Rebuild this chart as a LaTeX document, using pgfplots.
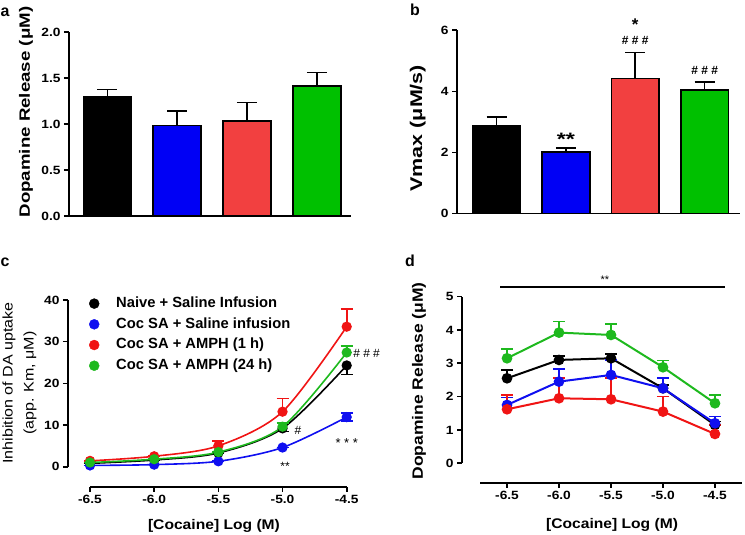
\documentclass[border=0pt]{standalone}
\usepackage{fontspec}
\setmainfont{Liberation Sans}
\usepackage{pgfplots}
\pgfplotsset{compat=1.18}

\definecolor{barblue}{RGB}{0,0,245}
\definecolor{barred}{RGB}{242,64,64}
\definecolor{bargreen}{RGB}{0,192,0}
\definecolor{lred}{RGB}{240,20,20}
\definecolor{lgreen}{RGB}{30,185,30}
\definecolor{lblue}{RGB}{15,15,240}

\newcommand{\tl}[1]{\scalebox{1.15}[1]{#1}}

\pgfplotsset{
  myax/.style={
    scale only axis, anchor=south west,
    axis lines=left,
    axis line style={-, line width=1.6bp, black},
    tick align=outside, major tick length=5bp,
    every tick/.style={line width=1.6bp, black},
    tick label style={font=\bfseries\fontsize{12}{14}\selectfont},
    clip=false,
  },
  barplot/.style={
    ybar, bar width=0.69, bar shift=0pt, xtick=\empty,
    xmin=0.45, xmax=4.49,
  },
  barerr/.style={
    draw=black, line width=1.6bp,
    error bars/y dir=plus, error bars/y explicit,
    error bars/error bar style={line width=1.6bp, black},
    error bars/error mark options={rotate=90, mark size=10bp, line width=1.6bp, black},
  },
  ser/.style={
    color=#1, line width=1.6bp, mark=*, mark size=4.3bp,
    mark options={solid, fill=#1, draw=#1},
    error bars/y explicit,
    error bars/error bar style={line width=1.6bp, #1},
    error bars/error mark options={rotate=90, mark size=6bp, line width=1.6bp, #1},
  },
}

\begin{document}
\begin{tikzpicture}
\useasboundingbox (0,0) rectangle (745bp,535bp);

% panel labels
\node[anchor=base west, font=\bfseries\fontsize{16}{18}\selectfont, inner sep=0pt] at (0.5bp,518.3bp) {a};
\node[anchor=base west, font=\bfseries\fontsize{16}{18}\selectfont, inner sep=0pt] at (410bp,519bp) {b};
\node[anchor=base west, font=\bfseries\fontsize{16}{18}\selectfont, inner sep=0pt] at (0.5bp,268bp) {c};
\node[anchor=base west, font=\bfseries\fontsize{16}{18}\selectfont, inner sep=0pt] at (405bp,268bp) {d};

% ---------------- panel a
\begin{axis}[myax, barplot, at={(69bp,319bp)}, width=282bp, height=184bp,
  ymin=0, ymax=2, ytick={0,0.5,1,1.5,2},
  yticklabels={\tl{0.0},\tl{0.5},\tl{1.0},\tl{1.5},\tl{2.0}},
  ylabel={\scalebox{1.25}[1]{Dopamine Release (μM)}},
  ylabel style={at={(axis description cs:-0.1525,0.565)}, anchor=center, font=\bfseries\fontsize{15}{18}\selectfont},
]
\addplot[fill=black, barerr] coordinates {(1,1.30) +- (0,0.077)};
\addplot[fill=barblue, barerr] coordinates {(2,0.985) +- (0,0.155)};
\addplot[fill=barred, barerr] coordinates {(3,1.03) +- (0,0.205)};
\addplot[fill=bargreen, barerr] coordinates {(4,1.41) +- (0,0.15)};
\end{axis}

% ---------------- panel b
\begin{axis}[myax, barplot, at={(457bp,321.3bp)}, width=283bp, height=183.4bp,
  xmin=0.43, xmax=4.51,
  ymin=0, ymax=6, ytick={0,2,4,6},
  yticklabels={\tl{0},\tl{2},\tl{4},\tl{6}},
  ylabel={\scalebox{1.27}[1]{Vmax (μM/s)}},
  ylabel style={at={(axis description cs:-0.139,0.466)}, anchor=center, font=\bfseries\fontsize{17}{20}\selectfont},
]
\addplot[fill=black, barerr] coordinates {(1,2.87) +- (0,0.30)};
\addplot[fill=barblue, barerr] coordinates {(2,2.01) +- (0,0.13)};
\addplot[fill=barred, barerr] coordinates {(3,4.42) +- (0,0.85)};
\addplot[fill=bargreen, barerr] coordinates {(4,4.04) +- (0,0.26)};
\node[anchor=base, font=\bfseries\fontsize{18}{20}\selectfont, inner sep=0pt] at (axis cs:2,2.235) {\scalebox{1.3}[1]{**}};
\node[anchor=base, font=\bfseries\fontsize{17}{20}\selectfont, inner sep=0pt] at (axis cs:3,6.0) {*};
\node[anchor=base, font=\bfseries\fontsize{12}{14}\selectfont, inner sep=0pt] at (axis cs:3,5.55) {\# \# \#};
\node[anchor=base, font=\bfseries\fontsize{12}{14}\selectfont, inner sep=0pt] at (axis cs:4,4.565) {\# \# \#};
\end{axis}

% ---------------- panel c
\begin{axis}[myax, at={(90bp,68.3bp)}, width=256.7bp, height=166.7bp,
  xmin=-6.5, xmax=-4.5, ymin=0, ymax=40,
  separate axis lines, axis x line shift=20bp, axis y line shift=22bp,
  xtick={-6.5,-6,-5.5,-5,-4.5},
  xticklabels={\tl{-6.5},\tl{-6.0},\tl{-5.5},\tl{-5.0},\tl{-4.5}},
  ytick={0,10,20,30,40},
  yticklabels={\tl{0},\tl{10},\tl{20},\tl{30},\tl{40}},
  xlabel={\scalebox{1.12}[1]{[Cocaine] Log (M)}},
  xlabel style={at={(axis description cs:0.483,-0.354)}, anchor=center, font=\bfseries\fontsize{14}{16}\selectfont},
  ylabel={\scalebox{1.15}[1]{Inhibition of DA uptake}\\\scalebox{1.15}[1]{(app. Km, μM)}},
  ylabel style={at={(axis description cs:-0.2746,0.502)}, anchor=center, align=center, font=\fontsize{14}{21}\selectfont},
  legend style={draw=none, fill=none, at={(axis description cs:-0.0154,1.038)}, anchor=north west,
    font=\bfseries\fontsize{14.8}{17}\selectfont, row sep=5.2bp,
    nodes={inner sep=1bp, text height=10.5bp, text depth=3bp},
    /tikz/every odd column/.append style={column sep=16bp}},
  legend cell align=left,
]
\addlegendimage{only marks, mark=*, mark size=5bp, black}
\addlegendentry{Naive + Saline Infusion}
\addlegendimage{only marks, mark=*, mark size=5bp, lblue}
\addlegendentry{Coc SA + Saline infusion}
\addlegendimage{only marks, mark=*, mark size=5bp, lred}
\addlegendentry{Coc SA + AMPH (1 h)}
\addlegendimage{only marks, mark=*, mark size=5bp, lgreen}
\addlegendentry{Coc SA + AMPH (24 h)}

\addplot[ser=black, smooth, error bars/y dir=minus, forget plot] coordinates {
  (-6.5,0.8) +- (0,0) (-6,1.6) +- (0,0) (-5.5,3.3) +- (0,0) (-5,9.2) +- (0,0.8) (-4.5,24.3) +- (0,2.2)};
\addplot[ser=lblue, smooth, error bars/y dir=both, forget plot] coordinates {
  (-6.5,0.3) +- (0,0) (-6,0.5) +- (0,0) (-5.5,1.3) +- (0,0) (-5,4.6) +- (0,0) (-4.5,11.9) +- (0,1.0)};
\addplot[ser=lred, smooth, error bars/y dir=plus, forget plot] coordinates {
  (-6.5,1.4) +- (0,0) (-6,2.5) +- (0,0) (-5.5,5.0) +- (0,1.2) (-5,13.2) +- (0,3.2) (-4.5,33.6) +- (0,4.3)};
\addplot[ser=lgreen, smooth, error bars/y dir=plus, forget plot] coordinates {
  (-6.5,1.0) +- (0,0) (-6,1.8) +- (0,0) (-5.5,3.5) +- (0,0) (-5,9.6) +- (0,0.9) (-4.5,27.4) +- (0,1.6)};

\node[anchor=base, font=\fontsize{12}{14}\selectfont, inner sep=0pt] at (axis cs:-4.98,-0.9) {**};
\node[anchor=base, font=\fontsize{12}{14}\selectfont, inner sep=0pt] at (axis cs:-4.88,7.8) {\#};
\node[anchor=base, font=\fontsize{13}{14}\selectfont, inner sep=0pt] at (axis cs:-4.5,4.7) {* * *};
\node[anchor=base west, font=\fontsize{12}{14}\selectfont, inner sep=0pt] at (axis cs:-4.45,26.1) {\# \# \#};
\end{axis}

% ---------------- panel d
\begin{axis}[myax, at={(480bp,71.7bp)}, width=262bp, height=166.7bp,
  xmin=-6.76, xmax=-4.24, ymin=0, ymax=5,
  separate axis lines, axis x line shift=19.4bp, axis y line shift=18bp,
  xtick={-6.5,-6,-5.5,-5,-4.5},
  xticklabels={\tl{-6.5},\tl{-6.0},\tl{-5.5},\tl{-5.0},\tl{-4.5}},
  ytick={0,1,2,3,4,5},
  yticklabels={\tl{0},\tl{1},\tl{2},\tl{3},\tl{4},\tl{5}},
  xlabel={\scalebox{1.12}[1]{[Cocaine] Log (M)}},
  xlabel style={at={(axis description cs:0.504,-0.370)}, anchor=center, font=\bfseries\fontsize{14}{16}\selectfont},
  ylabel={\scalebox{1.17}[1]{Dopamine Release (μM)}},
  ylabel style={at={(axis description cs:-0.233,0.494)}, anchor=center, font=\bfseries\fontsize{15}{18}\selectfont},
]
\addplot[ser=lgreen, line width=2bp, error bars/y dir=plus] coordinates {
  (-6.5,3.15) +- (0,0.27) (-6,3.92) +- (0,0.33) (-5.5,3.85) +- (0,0.32) (-5,2.88) +- (0,0.2) (-4.5,1.8) +- (0,0.25)};
\addplot[ser=black, line width=2bp, error bars/y dir=plus] coordinates {
  (-6.5,2.55) +- (0,0.25) (-6,3.1) +- (0,0.12) (-5.5,3.15) +- (0,0.13) (-5,2.25) +- (0,0.1) (-4.5,1.15) +- (0,0.1)};
\addplot[ser=lblue, line width=2bp, error bars/y dir=plus] coordinates {
  (-6.5,1.75) +- (0,0.22) (-6,2.45) +- (0,0.37) (-5.5,2.65) +- (0,0.45) (-5,2.25) +- (0,0.3) (-4.5,1.2) +- (0,0.2)};
\addplot[ser=lred, line width=2bp, error bars/y dir=plus] coordinates {
  (-6.5,1.62) +- (0,0.43) (-6,1.95) +- (0,0.6) (-5.5,1.92) +- (0,0.63) (-5,1.55) +- (0,0.45) (-4.5,0.88) +- (0,0.27)};
\draw[line width=1.8bp] (axis cs:-6.567,5.3) -- (axis cs:-4.407,5.3);
\node[anchor=base, font=\fontsize{11}{12}\selectfont, inner sep=0pt] at (axis cs:-5.56,5.39) {**};
\end{axis}
\end{tikzpicture}
\end{document}
